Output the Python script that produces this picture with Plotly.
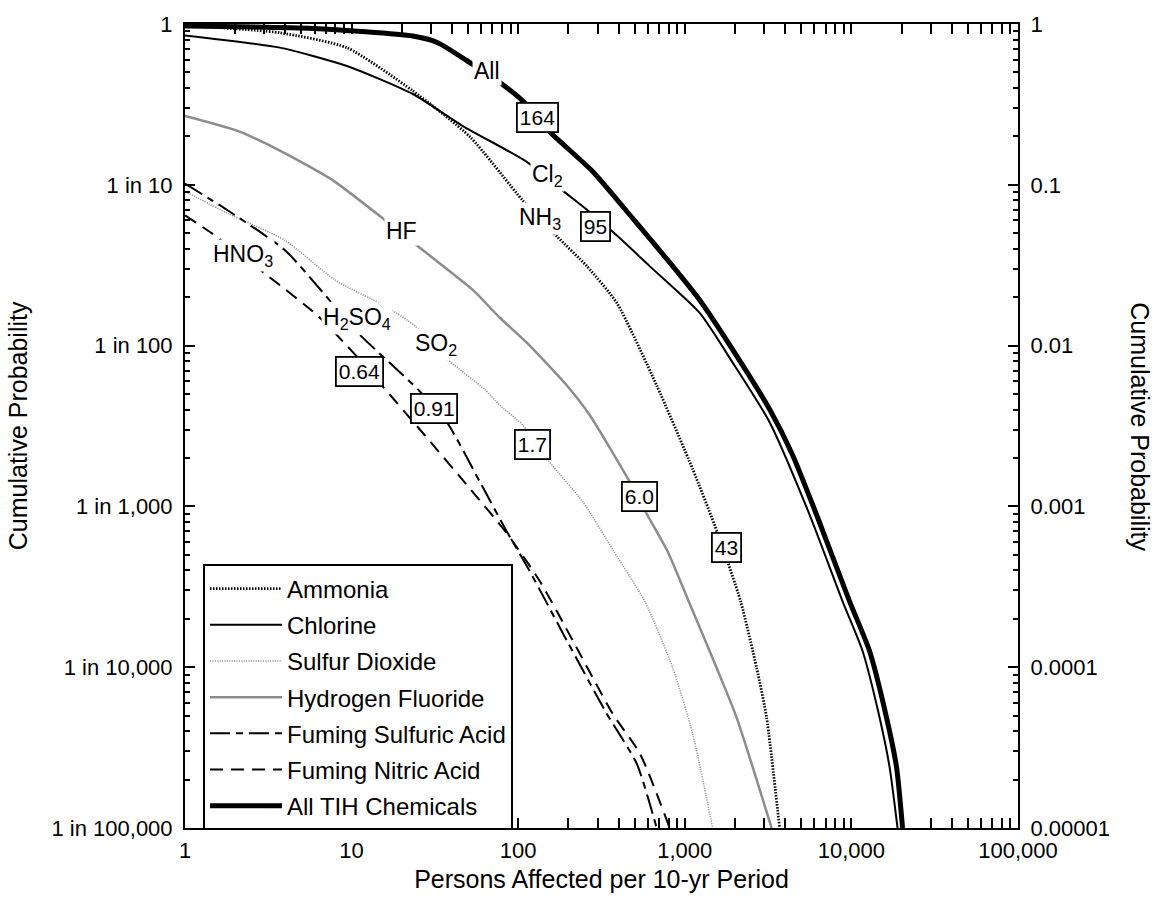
import numpy as np
import plotly.graph_objects as go

# ---------------- data ----------------
ammonia_x = [1, 3.71, 9.37, 23.3, 51.3, 106.6, 170.5, 258, 391, 678, 1114, 1577, 2163, 2699, 3098, 3707]
ammonia_y = [0.98, 0.882, 0.712, 0.384, 0.199, 0.0798, 0.0478, 0.0312, 0.0184, 0.00565, 0.00171, 0.000678,
             0.000257, 9.9e-5, 4.86e-5, 1e-5]

chlorine_x = [1, 3.71, 9.37, 23.3, 46.5, 112.6, 185, 262, 396, 615, 1228, 1937, 3228, 5614, 8850, 11670,
              14760, 16950, 18920]
chlorine_y = [0.849, 0.713, 0.548, 0.367, 0.232, 0.139, 0.092, 0.0692, 0.0478, 0.0312, 0.01597, 0.00784,
              0.00334, 0.000887, 0.000257, 0.000126, 4.86e-5, 2.39e-5, 1e-5]

so2_x = [1, 1.81, 3.98, 7.94, 15.8, 24.0, 37.8, 63.0, 77.6, 106.6, 150.5, 244, 375, 575, 846, 1114, 1469]
so2_y = [0.0908, 0.0664, 0.0452, 0.0256, 0.01767, 0.01328, 0.00818, 0.00534, 0.00425, 0.0032, 0.00194,
         0.00107, 0.000524, 0.000257, 9.9e-5, 3.87e-5, 1e-5]

hf_x = [1, 2.05, 3.71, 7.72, 15.4, 25.0, 53.4, 77.6, 112.6, 196, 269, 467, 590, 789, 1055, 1553, 2047, 3320]
hf_y = [0.268, 0.217, 0.163, 0.1066, 0.0618, 0.0415, 0.0222, 0.0149, 0.01043, 0.00565, 0.00369, 0.00142,
        0.0009, 0.000524, 0.000257, 9.9e-5, 4.86e-5, 1e-5]

h2so4_x = [1, 1.81, 3.98, 7.62, 10.9, 25.0, 37.3, 58.9, 85.5, 117.5, 196, 340, 514, 678]
h2so4_y = [0.1017, 0.0692, 0.0392, 0.0184, 0.0120, 0.00534, 0.00334, 0.00142, 0.000697, 0.000394,
           0.000146, 5.14e-5, 2.52e-5, 1e-5]

hno3_x = [1, 1.45, 3.15, 6.28, 10.5, 15.2, 27.5, 51.3, 85.5, 135, 213, 369, 537, 812]
hno3_y = [0.0645, 0.0499, 0.0271, 0.0153, 0.00879, 0.00565, 0.00277, 0.00129, 0.00068, 0.000342,
          0.000146, 5.14e-5, 2.91e-5, 1e-5]

all_x = [1, 5.86, 23.3, 32.9, 51.3, 79.8, 106.6, 155, 280, 487, 846, 1228, 1937, 3228, 4436, 6180, 9750,
         12850, 16250, 18660, 20280]
all_y = [0.972, 0.938, 0.841, 0.765, 0.575, 0.423, 0.332, 0.213, 0.121, 0.0618, 0.0312, 0.0192, 0.00944,
         0.00402, 0.00209, 0.000887, 0.000257, 0.000126, 4.86e-5, 2.39e-5, 1e-5]

# curve labels (text, x, y)
curve_labels = ["All", "Cl<sub>2</sub>", "NH<sub>3</sub>", "HF", "HNO<sub>3</sub>",
                "H<sub>2</sub>SO<sub>4</sub>", "SO<sub>2</sub>"]
curve_label_x = [64.8, 150.5, 135, 20.0, 2.23, 10.8, 32.0]
curve_label_y = [0.508, 0.114, 0.0618, 0.0514, 0.0365, 0.01466, 0.01013]

# boxed expected values (text, x, y)
box_labels = ["164", "95", "0.64", "0.91", "1.7", "6.0", "43"]
box_x = [131, 292, 11.1, 31.2, 122, 536, 1783]
box_y = [0.264, 0.0552, 0.0069, 0.00407, 0.00244, 0.00116, 0.000555]

x_tickvals = [1, 10, 100, 1000, 10000, 100000]
x_ticktext = ["1", "10", "100", "1,000", "10,000", "100,000"]
y_tickvals = [1e-5, 1e-4, 1e-3, 1e-2, 1e-1, 1]
y_left_text = ["1 in 100,000", "1 in 10,000", "1 in 1,000", "1 in 100", "1 in 10", "1"]
y_right_text = ["0.00001", "0.0001", "0.001", "0.01", "0.1", "1"]

# ---------------- figure ----------------
FONT = "Liberation Sans, Arial, Helvetica, sans-serif"
TICK_SIZE = 22
TITLE_SIZE = 25
fig = go.Figure()

series = [
    ("Ammonia", ammonia_x, ammonia_y, dict(color="black", width=2.8, dash="1.5px,1.5px")),
    ("Chlorine", chlorine_x, chlorine_y, dict(color="black", width=2)),
    ("Sulfur Dioxide", so2_x, so2_y, dict(color="#9a9a9a", width=1.6, dash="1.2px,1.2px")),
    ("Hydrogen Fluoride", hf_x, hf_y, dict(color="#8c8c8c", width=2.5)),
    ("Fuming Sulfuric Acid", h2so4_x, h2so4_y, dict(color="black", width=2, dash="20px,6px,7px,6px")),
    ("Fuming Nitric Acid", hno3_x, hno3_y, dict(color="black", width=2, dash="13px,8px")),
    ("All TIH Chemicals", all_x, all_y, dict(color="black", width=5)),
]
for name, xs, ys, line in series:
    line = dict(line, shape="spline", smoothing=0.6)
    fig.add_trace(go.Scatter(x=xs, y=ys, mode="lines", name=name, line=line,
                             legendgroup=name))

# invisible trace on right axis so it is drawn
fig.add_trace(go.Scatter(x=[1], y=[1], yaxis="y2", mode="markers", marker=dict(opacity=0),
                         showlegend=False, hoverinfo="skip"))

annotations = []
for t, xv, yv in zip(curve_labels, curve_label_x, curve_label_y):
    annotations.append(dict(x=np.log10(xv), y=np.log10(yv), xref="x", yref="y", text=t,
                            showarrow=False, bgcolor="white", borderpad=1,
                            font=dict(family=FONT, size=23, color="black")))
for t, xv, yv in zip(box_labels, box_x, box_y):
    annotations.append(dict(x=np.log10(xv), y=np.log10(yv), xref="x", yref="y", text=t,
                            showarrow=False, bgcolor="white", bordercolor="black",
                            borderwidth=1.8, borderpad=2,
                            font=dict(family=FONT, size=21, color="black")))
# axis titles for the two probability axes
annotations.append(dict(x=(1140 - 185) / 833, y=(828 - 424) / 808.5, xref="paper", yref="paper",
                        text="Cumulative Probability", showarrow=False, textangle=90,
                        xanchor="center", yanchor="middle",
                        font=dict(family=FONT, size=TITLE_SIZE, color="black")))
annotations.append(dict(x=(18 - 185) / 833, y=(828 - 424) / 808.5, xref="paper", yref="paper",
                        text="Cumulative Probability", showarrow=False, textangle=-90,
                        xanchor="center", yanchor="middle",
                        font=dict(family=FONT, size=TITLE_SIZE, color="black")))

minor_vals = [m * 10 ** k for k in range(0, 5) for m in range(2, 10)]
minor_y = [m * 10 ** k for k in range(-5, 0) for m in range(2, 10)]

axis_common = dict(type="log", showgrid=False, zeroline=False, showline=True, linecolor="black",
                   linewidth=2, ticks="inside", ticklen=10, tickwidth=1.8, tickcolor="black",
                   tickfont=dict(family=FONT, size=TICK_SIZE, color="black"))
minor_common = dict(ticks="inside", ticklen=5, tickwidth=1.5, tickcolor="black",
                    tickmode="array", showgrid=False)

fig.update_layout(
    width=1160, height=909,
    margin=dict(l=185, r=142, t=19, b=81),
    paper_bgcolor="white", plot_bgcolor="white",
    font=dict(family=FONT, color="black"),
    xaxis=dict(**axis_common, range=[0, 5], mirror="allticks",
               tickmode="array", tickvals=x_tickvals, ticktext=x_ticktext,
               ticklabelstandoff=2,
               minor=dict(**minor_common, tickvals=minor_vals),
               title=dict(text="Persons Affected per 10-yr Period",
                          font=dict(family=FONT, size=TITLE_SIZE, color="black"), standoff=8)),
    yaxis=dict(**axis_common, range=[-5, 0], mirror=False,
               tickmode="array", tickvals=y_tickvals, ticktext=y_left_text,
               ticklabelstandoff=6,
               minor=dict(**minor_common, tickvals=minor_y)),
    yaxis2=dict(**axis_common, range=[-5, 0], overlaying="y", side="right", anchor="x",
                tickmode="array", tickvals=y_tickvals, ticktext=y_right_text,
                ticklabelstandoff=6,
                minor=dict(**minor_common, tickvals=minor_y)),
    legend=dict(x=0.0216, y=0.3278, xanchor="left", yanchor="top",
                bgcolor="white", bordercolor="black", borderwidth=2,
                font=dict(family=FONT, size=24, color="black"),
                traceorder="grouped", tracegroupgap=2, itemwidth=72),
    showlegend=True,
    annotations=annotations,
)

fig.write_html("out.html")
